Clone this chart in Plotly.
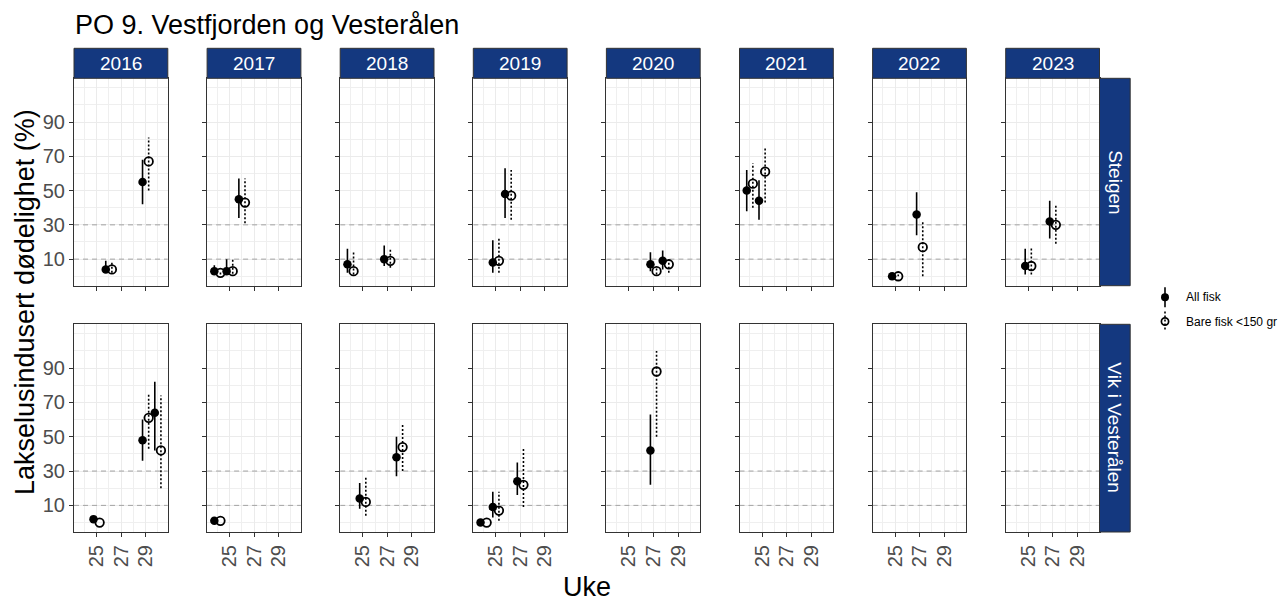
import plotly.graph_objects as go

# ---------------- data ----------------
years = [2016, 2017, 2018, 2019, 2020, 2021, 2022, 2023]
sites = ["Steigen", "Vik i Vesterålen"]
x_tick_vals = [25, 27, 29]
y_tick_vals = [10, 30, 50, 70, 90]
y_minor_vals = [0, 20, 40, 60, 80, 100, 110]
ref_lines = [10, 30]

# All fisk
all_site = ["Steigen"] * 17 + ["Vik i Vesterålen"] * 10
all_year = [2016, 2016, 2017, 2017, 2017, 2018, 2018, 2019, 2019, 2020, 2020, 2021, 2021, 2022, 2022, 2023, 2023,
            2016, 2016, 2016, 2017, 2018, 2018, 2019, 2019, 2019, 2020]
all_week = [26, 29, 24, 25, 26, 24, 27, 25, 26, 27, 28, 24, 25, 25, 27, 25, 27,
            25, 29, 30, 24, 25, 28, 24, 25, 27, 27]
all_pct = [4, 55, 3, 3, 45, 7, 10, 8, 48, 7, 9, 50, 44, 0, 36, 6, 32,
           2, 48, 64, 1, 14, 38, 0, 9, 24, 42]
all_lo = [2, 42, 1.5, 1, 34, 2, 6, 2, 34, 3, 4, 38, 33, 0, 24, 1, 22,
          2, 36, 42, 1, 8, 27, 0, 3, 16, 22]
all_hi = [9, 68, 6.5, 10, 57, 16, 18, 21, 63, 14, 15, 62, 56, 1, 49, 16, 44,
          2, 60, 82, 1, 23, 50, 0, 18, 35, 63]

# Bare fisk <150 gr
bare_site = ["Steigen"] * 17 + ["Vik i Vesterålen"] * 10
bare_year = [2016, 2016, 2017, 2017, 2017, 2018, 2018, 2019, 2019, 2020, 2020, 2021, 2021, 2022, 2022, 2023, 2023,
             2016, 2016, 2016, 2017, 2018, 2018, 2019, 2019, 2019, 2020]
bare_week = [26, 29, 24, 25, 26, 24, 27, 25, 26, 27, 28, 24, 25, 25, 27, 25, 27,
             25, 29, 30, 24, 25, 28, 24, 25, 27, 27]
bare_pct = [4, 67, 2, 3, 43, 3, 9, 9, 47, 3, 7, 54, 61, 0, 17, 6, 30,
            0, 61, 42, 1, 12, 44, 0, 7, 22, 88]
bare_lo = [2, 50, 1, 1.5, 31, 1, 5, 2, 33, 1, 2, 40, 43, 0, 0, 1, 19,
           0, 43, 20, 1, 4, 30, 0, 1, 9, 50]
bare_hi = [8, 81, 3, 10, 57, 14, 16, 22, 62, 5, 10, 66, 75, 1, 32, 17, 42,
           0, 75, 74, 1, 27, 58, 0, 18, 44, 100]

series_names = ["All fisk", "Bare fisk <150 gr"]

# ---------------- layout geometry (window pixels) ----------------
W, H = 1288, 601
FONT = "Liberation Sans, Arial, sans-serif"
col_x0, col_step, col_w = 74.0, 133.1, 93.8
row_y = [(78.3, 285.7), (324.3, 532.0)]
strip_h = 30.0
rstrip_w = 30.7
STRIP_COL = "#14387F"
X_RANGE = [23.16, 30.81]
Y_RANGE = [-5.5, 115.5]


def px(x):
    return x / W


def py(y):
    return 1 - y / H


series = [
    dict(site=all_site, year=all_year, week=all_week, pct=all_pct, lo=all_lo, hi=all_hi,
         offset=-0.25, symbol="circle", dash="solid"),
    dict(site=bare_site, year=bare_year, week=bare_week, pct=bare_pct, lo=bare_lo, hi=bare_hi,
         offset=0.25, symbol="circle-open", dash="2px,2px"),
]

fig = go.Figure()
shapes = []
annotations = []

for r, site in enumerate(sites):
    for c, yr in enumerate(years):
        k = r * 8 + c + 1
        xa = "x" if k == 1 else f"x{k}"
        ya = "y" if k == 1 else f"y{k}"
        # dashed reference lines across the panel
        for v in ref_lines:
            fig.add_trace(go.Scatter(x=X_RANGE, y=[v, v], mode="lines", xaxis=xa, yaxis=ya,
                                     line=dict(color="#A3A3A3", width=1, dash="5px,4px"),
                                     showlegend=False, hoverinfo="skip"))
        for s in series:
            idx = [i for i in range(len(s["site"])) if s["site"][i] == site and s["year"][i] == yr]
            xs = [s["week"][i] + s["offset"] for i in idx]
            ys = [s["pct"][i] for i in idx]
            ex, ey = [], []
            for i in idx:
                xx = s["week"][i] + s["offset"]
                ex += [xx, xx, None]
                ey += [s["lo"][i], s["hi"][i], None]
            fig.add_trace(go.Scatter(x=ex, y=ey, mode="lines", xaxis=xa, yaxis=ya,
                                     line=dict(color="black", width=1.6, dash=s["dash"]),
                                     showlegend=False, hoverinfo="skip"))
            if s["symbol"] == "circle":
                mk = dict(symbol="circle", size=8.5, color="black", line=dict(width=0))
            else:
                mk = dict(symbol="circle-open", size=8.5, color="black", line=dict(width=1.8, color="black"))
            fig.add_trace(go.Scatter(x=xs, y=ys, mode="markers", xaxis=xa, yaxis=ya,
                                     marker=mk, showlegend=False))

        x0 = col_x0 + c * col_step
        x1 = x0 + col_w
        yt, yb = row_y[r]
        xkey = "xaxis" if k == 1 else f"xaxis{k}"
        ykey = "yaxis" if k == 1 else f"yaxis{k}"
        fig.layout[xkey] = dict(
            domain=[px(x0), px(x1)], anchor=ya, range=X_RANGE, autorange=False,
            tickmode="array", tickvals=x_tick_vals, ticktext=[str(v) for v in x_tick_vals],
            showticklabels=(r == 1), tickangle=-90,
            tickfont=dict(family=FONT, size=20, color="#4D4D4D"),
            ticks="outside", ticklen=4, tickwidth=1, tickcolor="#333333",
            showgrid=True, gridcolor="#EBEBEB", gridwidth=1.1,
            minor=dict(tickmode="array", tickvals=[24, 26, 28, 30], showgrid=True,
                       gridcolor="#EFEFEF", gridwidth=0.6, ticks=""),
            showline=True, mirror=True, linecolor="#333333", linewidth=1,
            zeroline=False, automargin=False, fixedrange=True,
        )
        fig.layout[ykey] = dict(
            domain=[py(yb), py(yt)], anchor=xa, range=Y_RANGE, autorange=False,
            tickmode="array", tickvals=y_tick_vals, ticktext=[str(v) for v in y_tick_vals],
            showticklabels=(c == 0),
            tickfont=dict(family=FONT, size=20, color="#4D4D4D"),
            ticks="outside", ticklen=4, tickwidth=1, tickcolor="#333333",
            showgrid=True, gridcolor="#EBEBEB", gridwidth=1.1,
            minor=dict(tickmode="array", tickvals=y_minor_vals, showgrid=True,
                       gridcolor="#EFEFEF", gridwidth=0.6, ticks=""),
            showline=True, mirror=True, linecolor="#333333", linewidth=1,
            zeroline=False, automargin=False, fixedrange=True,
        )
        if r == 0:
            shapes.append(dict(type="rect", xref="paper", yref="paper",
                               x0=px(x0), x1=px(x1), y0=py(yt), y1=py(yt - strip_h),
                               fillcolor=STRIP_COL, line=dict(color="#333333", width=1), layer="above"))
            annotations.append(dict(text=str(yr), xref="paper", yref="paper",
                                    x=px((x0 + x1) / 2), y=py(yt - strip_h / 2),
                                    xanchor="center", yanchor="middle", showarrow=False,
                                    font=dict(family=FONT, size=19, color="white")))
        if c == 7:
            shapes.append(dict(type="rect", xref="paper", yref="paper",
                               x0=px(x1), x1=px(x1 + rstrip_w), y0=py(yb), y1=py(yt),
                               fillcolor=STRIP_COL, line=dict(color="#333333", width=1), layer="above"))
            annotations.append(dict(text=site, xref="paper", yref="paper",
                                    x=px(x1 + rstrip_w / 2), y=py((yt + yb) / 2),
                                    xanchor="center", yanchor="middle", showarrow=False, textangle=90,
                                    font=dict(family=FONT, size=19, color="white")))

# title and axis titles
annotations.append(dict(text="PO 9. Vestfjorden og Vesterålen", xref="paper", yref="paper",
                        x=px(73), y=py(25), xanchor="left", yanchor="middle", showarrow=False,
                        font=dict(family=FONT, size=27, color="black")))
annotations.append(dict(text="Lakselusindusert dødelighet (%)", xref="paper", yref="paper",
                        x=px(25), y=py(302), xanchor="center", yanchor="middle", showarrow=False,
                        textangle=-90, font=dict(family=FONT, size=27, color="black")))
annotations.append(dict(text="Uke", xref="paper", yref="paper",
                        x=px(587), y=py(586.5), xanchor="center", yanchor="middle", showarrow=False,
                        font=dict(family=FONT, size=27, color="black")))

# legend (manual)
lx = 1165
leg_y = [297.3, 321.5]
shapes.append(dict(type="line", xref="paper", yref="paper", x0=px(lx), x1=px(lx),
                   y0=py(leg_y[0] - 10), y1=py(leg_y[0] + 10), line=dict(color="black", width=1.6)))
shapes.append(dict(type="circle", xref="paper", yref="paper", x0=px(lx - 4), x1=px(lx + 4),
                   y0=py(leg_y[0] - 4), y1=py(leg_y[0] + 4), fillcolor="black", line=dict(color="black", width=0)))
shapes.append(dict(type="line", xref="paper", yref="paper", x0=px(lx), x1=px(lx),
                   y0=py(leg_y[1] - 10), y1=py(leg_y[1] + 10), line=dict(color="black", width=1.6, dash="2px,2px")))
shapes.append(dict(type="circle", xref="paper", yref="paper", x0=px(lx - 3.6), x1=px(lx + 3.6),
                   y0=py(leg_y[1] - 3.6), y1=py(leg_y[1] + 3.6), fillcolor="rgba(0,0,0,0)",
                   line=dict(color="black", width=1.7)))
for name, yy in zip(series_names, leg_y):
    annotations.append(dict(text=name, xref="paper", yref="paper", x=px(1184), y=py(yy),
                            xanchor="left", yanchor="middle", showarrow=False,
                            font=dict(family=FONT, size=12, color="black")))

fig.update_layout(
    template="none",
    width=W, height=H, autosize=False,
    margin=dict(l=0, r=0, t=0, b=0, pad=0),
    paper_bgcolor="white", plot_bgcolor="white",
    font=dict(family=FONT, color="black"),
    showlegend=False,
    shapes=shapes, annotations=annotations,
)

fig.write_html("out.html",
               config={"displayModeBar": False},
               post_script="document.body.style.margin='0px';document.body.style.overflow='hidden';")
